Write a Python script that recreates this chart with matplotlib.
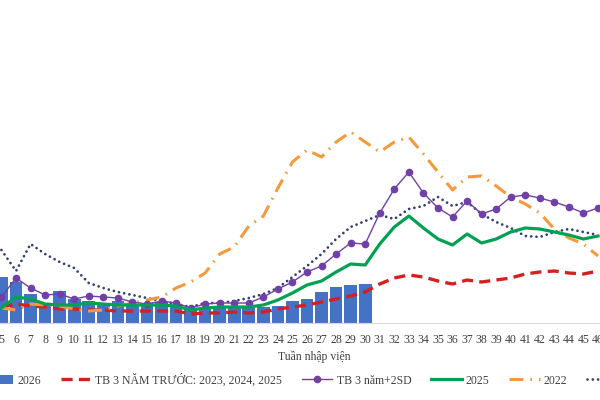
import numpy as np
import matplotlib.pyplot as plt

plt.rcParams['font.family'] = ['Liberation Serif', 'DejaVu Serif']
plt.rcParams['lines.scale_dashes'] = False

weeks = list(range(5, 47))
weeks_2026 = list(range(5, 31))
all_weeks = list(range(1, 53))

cases_2026 = [46, 41, 29, 19, 32, 24, 22, 18, 22, 18, 20, 21, 18, 13, 16, 16,
              16, 16, 16, 17, 22, 24, 31, 36, 38, 39]
tb_3y = [16, 19, 17, 16, 14, 14, 13, 13, 12, 12, 12, 12, 12, 9, 10, 10, 11, 10,
         11, 14, 16, 18, 21, 24, 27, 31, 39, 45, 48, 46, 42, 39, 43, 41, 43, 45,
         49, 51, 52, 50, 49, 52]
tb_2sd = [26, 45, 35, 28, 29, 24, 27, 26, 25, 21, 19, 22, 20, 15, 19, 20, 20, 20,
          26, 34, 41, 51, 57, 69, 80, 79, 110, 134, 151, 130, 115, 106, 122, 109,
          114, 126, 128, 125, 121, 116, 110, 115]
y2025 = [15, 26, 24, 19, 18, 18, 20, 19, 18, 18, 18, 18, 17, 13, 15, 16, 16, 16,
         18, 23, 30, 38, 42, 51, 59, 58, 79, 96, 107, 95, 84, 78, 89, 80, 84, 91,
         95, 94, 91, 88, 84, 87]
y2022 = [15, 13, 19, 18, 17, 14, 12, 13, 17, 20, 23, 26, 35, 41, 50, 69, 76, 97,
         107, 135, 161, 173, 166, 181, 191, 181, 171, 181, 186, 169, 151, 133,
         146, 147, 137, 126, 119, 110, 94, 85, 79, 67]
y2024 = [73, 52, 79, 69, 61, 55, 40, 35, 31, 28, 25, 22, 19, 16, 20, 20, 22, 25,
         29, 35, 46, 57, 69, 84, 96, 102, 108, 104, 114, 117, 126, 117, 121, 109,
         101, 95, 87, 86, 91, 94, 91, 88]

fig = plt.figure(figsize=(6, 4), dpi=100)
# the visible picture is a crop of a wider chart, so the axes run past the edges
ax = fig.add_axes([-0.1067, 0.1925, 1.261, 0.7575])

bars = ax.bar(weeks_2026, cases_2026, width=0.87, color='#4472c4', label='2026', zorder=1)
l1, = ax.plot(weeks, tb_3y, color='#d42020', lw=2.4, linestyle=(0, (8, 4.5)),
              label='TB 3 NĂM TRƯỚC: 2023, 2024, 2025', zorder=3)
l2, = ax.plot(weeks, tb_2sd, color='#7040a8', lw=1.0, marker='o', markersize=4.5,
              label='TB 3 năm+2SD', zorder=4)
l3, = ax.plot(weeks, y2025, color='#00a152', lw=2.3, label='2025', zorder=5)
l4, = ax.plot(weeks, y2022, color='#f59a3c', lw=2.2, linestyle=(0, (10, 5, 1.2, 5)),
              label='2022', zorder=3)
l5, = ax.plot(weeks, y2024, color='#333f70', lw=2.0, linestyle=(0, (0.01, 3.8)),
              dash_capstyle='round', label='2024', zorder=2)

ax.set_xlim(0.5, 52.5)
ax.set_ylim(0, 303)
ax.set_xticks(all_weeks)
ax.set_xticklabels([str(w) for w in all_weeks], fontsize=8.5, color='#404040')
ax.tick_params(axis='x', length=0, pad=8)
ax.set_yticks([])
for s in ['left', 'right', 'top']:
    ax.spines[s].set_visible(False)
ax.spines['bottom'].set_color('#d9d9d9')
ax.set_xlabel('Tuần nhập viện', fontsize=8.5, color='#404040', labelpad=3)

ax.legend(handles=[bars, l1, l2, l3, l4, l5], loc='center',
          bbox_to_anchor=(0.5, -0.188), ncol=6, frameon=False,
          fontsize=8.5, handlelength=2.55, handletextpad=0.35,
          columnspacing=1.7, labelcolor='#404040')

fig.savefig('out.png', dpi=100)
